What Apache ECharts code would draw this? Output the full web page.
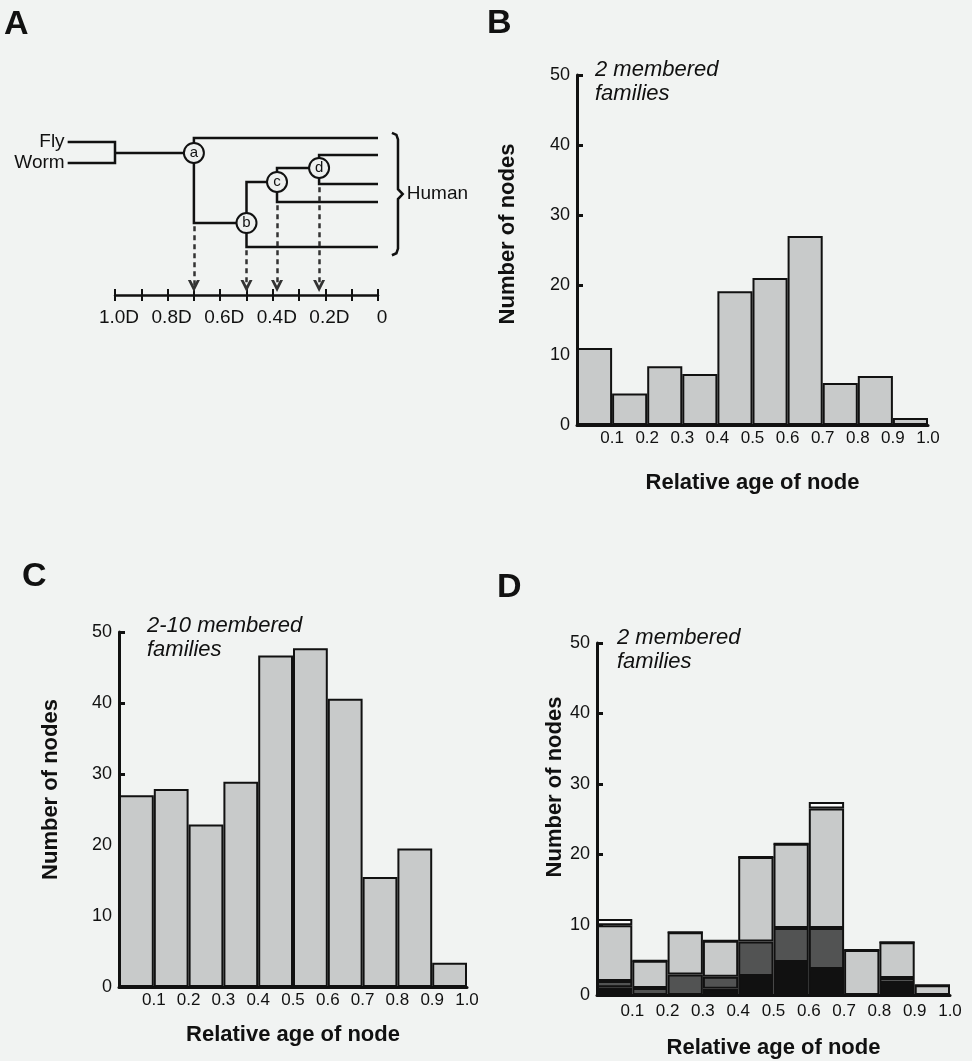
<!DOCTYPE html>
<html>
<head>
<meta charset="utf-8">
<script src="https://cdn.jsdelivr.net/npm/echarts@6/dist/echarts.min.js"></script>
<style>
  html, body { margin: 0; padding: 0; background: #f1f3f2; }
  #main { width: 972px; height: 1061px; }
</style>
</head>
<body>
<div id="main"></div>
<script>
// ---- data ----
const ageBins = ['0-0.1', '0.1-0.2', '0.2-0.3', '0.3-0.4', '0.4-0.5',
                 '0.5-0.6', '0.6-0.7', '0.7-0.8', '0.8-0.9', '0.9-1.0'];

// B: 2 membered families
const twoMembered = [11, 4.5, 8.4, 7.3, 19.1, 21, 27, 6, 7, 1];
// C: 2-10 membered families
const twoToTenMembered = [27, 27.9, 22.9, 28.9, 46.7, 47.7, 40.6, 15.5, 19.5, 3.4];
// D: 2 membered families, broken down (bottom -> top)
const dBlack = [1.1, 0, 0, 0.9, 2.7, 4.7, 3.7, 0, 1.7, 0];
const dDark  = [0.9, 1.0, 2.9, 1.7, 4.9, 4.8, 5.8, 0, 0.7, 0];
const dLight = [7.9, 3.85, 6.0, 5.1, 12.0, 12.0, 17.0, 6.4, 5.1, 1.4];
const dWhite = [0.9, 0, 0, 0, 0, 0, 0.9, 0, 0, 0];

// A: tree (x = relative age in D, y = row in the drawing)
const rootAge = 1.0;
const tipAge = 1.18;
const outgroups = [{ name: 'Fly', row: 0.73 }, { name: 'Worm', row: 2.0 }];
const rootRow = 1.39;
const nodes = [
  { name: 'a', age: 0.70,  row: 1.39, top: [0.48, 0],     bottom: [5.64, 0.50] },
  { name: 'b', age: 0.50,  row: 5.64, top: [3.15, 0.384], bottom: [7.09, 0] },
  { name: 'c', age: 0.384, row: 3.15, top: [2.30, 0.224], bottom: [4.36, 0] },
  { name: 'd', age: 0.224, row: 2.30, top: [1.52, 0],     bottom: [3.27, 0] }
];
const leafRows = [0.48, 1.52, 3.27, 4.36, 7.09];
const arrowRow = 9.45;
const treeTicks = ['1.0D', '0.8D', '0.6D', '0.4D', '0.2D', '0'];

const FONT = 'Liberation Sans, Arial, Helvetica, sans-serif';
const INK = '#111';

// build tree paths
const treePaths = [];
treePaths.push([[tipAge, outgroups[0].row], [rootAge, outgroups[0].row],
                [rootAge, outgroups[1].row], [tipAge, outgroups[1].row]]);
treePaths.push([[rootAge, rootRow], [nodes[0].age, rootRow]]);
nodes.forEach(n => {
  treePaths.push([[n.top[1], n.top[0]], [n.age, n.top[0]],
                  [n.age, n.bottom[0]], [n.bottom[1], n.bottom[0]]]);
});
const arrows = nodes.map(n => ({ coords: [[n.age, n.bottom[0] + 0.2], [n.age, arrowRow]] }));

// curly brace round the human leaves
const bTop = leafRows[0] - 0.3, bBot = leafRows[leafRows.length - 1] + 0.5;
const bMid = (bTop + bBot) / 2;
const brace = [[-0.053, bTop], [-0.07, bTop + 0.12], [-0.076, bTop + 0.4],
               [-0.076, bMid - 0.3], [-0.094, bMid], [-0.076, bMid + 0.3],
               [-0.076, bBot - 0.4], [-0.07, bBot - 0.12], [-0.053, bBot]];

const chart = echarts.init(document.getElementById('main'));

function histX(gi, margin, nameGap) {
  return [
    { gridIndex: gi, type: 'category', data: ageBins, show: false, boundaryGap: true },
    {
      gridIndex: gi, type: 'value', min: 0, max: 1, interval: 0.1, position: 'bottom',
      axisLine: { onZero: false, lineStyle: { color: INK, width: 3 } },
      axisTick: { show: false },
      splitLine: { show: false },
      axisLabel: { margin: margin, fontSize: 17, color: INK, fontFamily: FONT,
                   formatter: v => (v === 0 ? '' : v.toFixed(1)) },
      name: 'Relative age of node', nameLocation: 'middle', nameGap: nameGap,
      nameTextStyle: { fontSize: 22, fontWeight: 'bold', color: INK, fontFamily: FONT }
    }
  ];
}

function histY(gi, nameGap, shift) {
  return {
    gridIndex: gi, type: 'value', min: 0, max: 50, interval: 10,
    axisLine: { show: true, onZero: false, lineStyle: { color: INK, width: 3 } },
    axisTick: { show: true, inside: true, length: 6, lineStyle: { color: INK, width: 3 } },
    splitLine: { show: false },
    axisLabel: { margin: 7, fontSize: 18, color: INK, fontFamily: FONT },
    name: 'Number of nodes', nameLocation: 'middle', nameGap: nameGap,
    nameTextStyle: { fontSize: 22, fontWeight: 'bold', color: INK, fontFamily: FONT,
                     padding: [0, 0, 0, shift] }
  };
}

const barStyle = { color: '#c8caca', borderColor: INK, borderWidth: 2 };

function label(text, x, y, font) {
  return { type: 'text', x: x, y: y,
           style: { text: text, fill: INK, font: font, verticalAlign: 'middle', lineHeight: 24 } };
}

const option = {
  backgroundColor: '#f1f3f2',
  animation: false,
  textStyle: { fontFamily: FONT },
  grid: [
    { left: 115, top: 130, width: 263, height: 165 },
    { left: 577, top: 75, width: 351, height: 350 },
    { left: 119, top: 632, width: 348, height: 355 },
    { left: 597, top: 643, width: 353, height: 352 }
  ],
  xAxis: [
    {
      gridIndex: 0, type: 'value', min: 0, max: 1, interval: 0.1, inverse: true, position: 'bottom',
      axisLine: { onZero: false, lineStyle: { color: INK, width: 2.5 } },
      axisTick: { show: true, length: 6, lineStyle: { color: INK, width: 2 } },
      splitLine: { show: false },
      axisLabel: {
        margin: 13, fontSize: 19, color: INK, fontFamily: FONT, padding: [0, 0, 0, 8],
        formatter: v => {
          const k = Math.round(v * 10);
          return k % 2 ? '' : treeTicks[5 - k / 2];
        }
      }
    },
    {
      gridIndex: 0, type: 'value', min: 0, max: 1, interval: 0.1, inverse: true, position: 'bottom',
      axisLine: { show: false, onZero: false },
      axisTick: { show: true, inside: true, length: 6, lineStyle: { color: INK, width: 2 } },
      axisLabel: { show: false }, splitLine: { show: false }
    },
    ...histX(1, 5, 47),
    ...histX(2, 5, 37),
    ...histX(3, 8, 42)
  ],
  yAxis: [
    { gridIndex: 0, type: 'value', min: 0, max: 10, inverse: true, show: false },
    histY(1, 58, 32),
    histY(2, 57, 40),
    histY(3, 24, 64)
  ],
  graphic: [
    label('A', 4, 25, 'bold 34px ' + FONT),
    label('B', 487, 24, 'bold 34px ' + FONT),
    label('C', 22, 577, 'bold 34px ' + FONT),
    label('D', 497, 588, 'bold 34px ' + FONT),
    label('2 membered\nfamilies', 595, 82, 'italic 22px ' + FONT),
    label('2-10 membered\nfamilies', 147, 638, 'italic 22px ' + FONT),
    label('2 membered\nfamilies', 617, 650, 'italic 22px ' + FONT)
  ],
  series: [
    {
      name: 'tree', type: 'lines', coordinateSystem: 'cartesian2d', xAxisIndex: 0, yAxisIndex: 0,
      polyline: true, clip: false, silent: true,
      lineStyle: { color: INK, width: 2.5, opacity: 1 },
      data: treePaths.map(p => ({ coords: p }))
    },
    {
      name: 'brace', type: 'lines', coordinateSystem: 'cartesian2d', xAxisIndex: 0, yAxisIndex: 0,
      polyline: true, clip: false, silent: true,
      lineStyle: { color: INK, width: 2.5, opacity: 1 },
      data: [{ coords: brace }]
    },
    {
      name: 'age arrows', type: 'lines', coordinateSystem: 'cartesian2d', xAxisIndex: 0, yAxisIndex: 0,
      clip: false, silent: true,
      // open "V" arrow head, like the drawing
      symbol: ['none', 'path://M5,0 L10,9 L7.5,9 L5,4.6 L2.5,9 L0,9 Z'], symbolSize: [13, 12],
      lineStyle: { color: '#333', width: 2.5, type: [5, 4], opacity: 1 },
      data: arrows
    },
    {
      name: 'nodes', type: 'scatter', xAxisIndex: 0, yAxisIndex: 0, clip: false, z: 5,
      symbolSize: 20,
      itemStyle: { color: '#eef0ef', borderColor: INK, borderWidth: 2, opacity: 1 },
      label: { show: true, position: 'inside', formatter: '{b}', fontSize: 15, color: INK,
               fontFamily: FONT },
      data: nodes.map(n => ({ name: n.name, value: [n.age, n.row] }))
    },
    {
      name: 'taxa', type: 'scatter', xAxisIndex: 0, yAxisIndex: 0, clip: false,
      symbolSize: 0.1, itemStyle: { color: INK, opacity: 1 },
      label: { show: true, position: 'left', distance: 3, formatter: '{b}', fontSize: 19,
               color: INK, fontFamily: FONT },
      data: outgroups.map(o => ({ name: o.name, value: [tipAge, o.row] }))
    },
    {
      name: 'human', type: 'scatter', xAxisIndex: 0, yAxisIndex: 0, clip: false,
      symbolSize: 0.1, itemStyle: { color: INK, opacity: 1 },
      label: { show: true, position: 'right', distance: 4, formatter: '{b}', fontSize: 19,
               color: INK, fontFamily: FONT },
      data: [{ name: 'Human', value: [-0.094, bMid] }]
    },
    {
      name: '2 membered', type: 'bar', xAxisIndex: 2, yAxisIndex: 1,
      barWidth: '100%', itemStyle: barStyle, data: twoMembered
    },
    {
      name: '2-10 membered', type: 'bar', xAxisIndex: 4, yAxisIndex: 2,
      barWidth: '100%', itemStyle: barStyle, data: twoToTenMembered
    },
    {
      name: 'black', type: 'bar', stack: 'd', xAxisIndex: 6, yAxisIndex: 3, barWidth: '100%',
      itemStyle: { color: '#111', borderColor: INK, borderWidth: 2 }, data: dBlack
    },
    {
      name: 'dark', type: 'bar', stack: 'd', xAxisIndex: 6, yAxisIndex: 3, barWidth: '100%',
      itemStyle: { color: '#525353', borderColor: INK, borderWidth: 2 }, data: dDark
    },
    {
      name: 'light', type: 'bar', stack: 'd', xAxisIndex: 6, yAxisIndex: 3, barWidth: '100%',
      itemStyle: { color: '#c8caca', borderColor: INK, borderWidth: 2 }, data: dLight
    },
    {
      name: 'white', type: 'bar', stack: 'd', xAxisIndex: 6, yAxisIndex: 3, barWidth: '100%',
      itemStyle: { color: '#fbfbfb', borderColor: INK, borderWidth: 2 }, data: dWhite
    }
  ]
};

chart.setOption(option);
</script>
</body>
</html>
